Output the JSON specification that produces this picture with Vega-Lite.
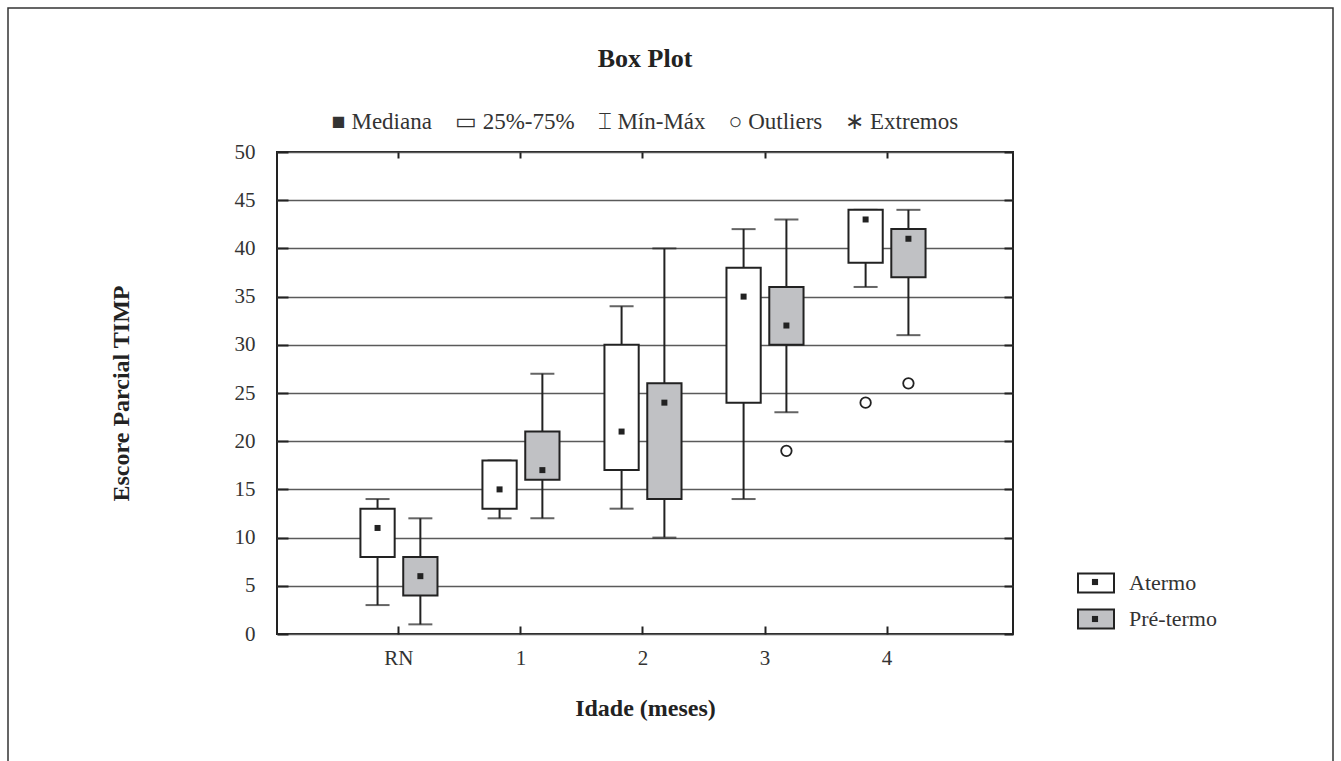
{
  "$schema": "https://vega.github.io/schema/vega-lite/v6.json",
  "autosize": {"type": "none"},
  "padding": {"left": 277, "top": 152, "right": 328, "bottom": 127},
  "width": 736,
  "height": 482,
  "background": "white",
  "title": {
    "text": "Box Plot",
    "subtitle": "■ Mediana\u2003▭ 25%-75%\u2003⌶ Mín-Máx\u2003○ Outliers\u2003∗ Extremos",
    "anchor": "middle",
    "frame": "group",
    "font": "Liberation Serif",
    "fontSize": 26,
    "fontWeight": "bold",
    "color": "#222222",
    "subtitleFont": "Liberation Serif",
    "subtitleFontSize": 23,
    "subtitleColor": "#333333",
    "subtitlePadding": 39,
    "offset": -126
  },
  "config": {
    "view": {"stroke": "#222222", "strokeWidth": 2},
    "axis": {
      "labelFont": "Liberation Serif",
      "labelFontSize": 21,
      "labelColor": "#333333",
      "titleFont": "Liberation Serif",
      "titleFontSize": 24,
      "titleFontWeight": "bold",
      "titleColor": "#222222",
      "tickColor": "#222222",
      "tickWidth": 2,
      "domain": false
    },
    "legend": {
      "labelFont": "Liberation Serif",
      "labelFontSize": 22,
      "labelColor": "#333333"
    }
  },
  "datasets": {
    "boxes": [
      {"idade": "RN", "grupo": "Atermo", "min": 3, "q1": 8, "mediana": 11, "q3": 13, "max": 14},
      {"idade": "RN", "grupo": "Pré-termo", "min": 1, "q1": 4, "mediana": 6, "q3": 8, "max": 12},
      {"idade": "1", "grupo": "Atermo", "min": 12, "q1": 13, "mediana": 15, "q3": 18, "max": 18},
      {"idade": "1", "grupo": "Pré-termo", "min": 12, "q1": 16, "mediana": 17, "q3": 21, "max": 27},
      {"idade": "2", "grupo": "Atermo", "min": 13, "q1": 17, "mediana": 21, "q3": 30, "max": 34},
      {"idade": "2", "grupo": "Pré-termo", "min": 10, "q1": 14, "mediana": 24, "q3": 26, "max": 40},
      {"idade": "3", "grupo": "Atermo", "min": 14, "q1": 24, "mediana": 35, "q3": 38, "max": 42},
      {"idade": "3", "grupo": "Pré-termo", "min": 23, "q1": 30, "mediana": 32, "q3": 36, "max": 43},
      {"idade": "4", "grupo": "Atermo", "min": 36, "q1": 38.5, "mediana": 43, "q3": 44, "max": 44},
      {"idade": "4", "grupo": "Pré-termo", "min": 31, "q1": 37, "mediana": 41, "q3": 42, "max": 44}
    ],
    "outliers": [
      {"idade": "3", "grupo": "Pré-termo", "valor": 19},
      {"idade": "4", "grupo": "Atermo", "valor": 24},
      {"idade": "4", "grupo": "Pré-termo", "valor": 26}
    ]
  },
  "data": {"name": "boxes"},
  "resolve": {"axis": {"x": "independent", "y": "independent"}},
  "layer": [
    {
      "mark": {"type": "rule", "color": "#222222", "strokeWidth": 2},
      "encoding": {
        "x": {
          "field": "idade", "type": "ordinal",
          "sort": ["RN", "1", "2", "3", "4"],
          "scale": {"paddingInner": 0, "paddingOuter": 0.516, "align": 0.484},
          "axis": {"orient": "bottom", "title": "Idade (meses)", "labelAngle": 0, "tickSize": -8, "labelPadding": 21, "titlePadding": 28}
        },
        "xOffset": {"field": "grupo", "type": "nominal", "scale": {"paddingInner": 0.2, "paddingOuter": 0.525}},
        "y": {
          "field": "min", "type": "quantitative",
          "scale": {"domain": [0, 50], "nice": false, "zero": false},
          "axis": {"orient": "left", "title": "Escore Parcial TIMP", "values": [0, 5, 10, 15, 20, 25, 30, 35, 40, 45, 50], "grid": true, "gridColor": "#5a5a5a", "gridWidth": 1.5, "tickSize": -11, "labelPadding": 33, "titlePadding": 101}
        },
        "y2": {"field": "max"}
      }
    },
    {
      "mark": {"type": "tick", "color": "#222222", "size": 24, "thickness": 2},
      "encoding": {
        "x": {"field": "idade", "type": "ordinal", "sort": ["RN", "1", "2", "3", "4"], "axis": {"orient": "top", "title": null, "labels": false, "tickSize": -6}},
        "xOffset": {"field": "grupo", "type": "nominal"},
        "y": {"field": "min", "type": "quantitative", "axis": {"orient": "right", "title": null, "labels": false, "grid": false, "values": [0, 5, 10, 15, 20, 25, 30, 35, 40, 45, 50], "tickSize": -9}}
      }
    },
    {
      "mark": {"type": "tick", "color": "#222222", "size": 24, "thickness": 2},
      "encoding": {
        "x": {"field": "idade", "type": "ordinal", "sort": ["RN", "1", "2", "3", "4"], "axis": null},
        "xOffset": {"field": "grupo", "type": "nominal"},
        "y": {"field": "max", "type": "quantitative", "axis": null}
      }
    },
    {
      "mark": {"type": "bar", "stroke": "#222222", "strokeWidth": 2},
      "encoding": {
        "x": {"field": "idade", "type": "ordinal", "sort": ["RN", "1", "2", "3", "4"], "axis": null},
        "xOffset": {"field": "grupo", "type": "nominal"},
        "y": {"field": "q1", "type": "quantitative", "axis": null},
        "y2": {"field": "q3"},
        "fill": {
          "field": "grupo", "type": "nominal",
          "scale": {"range": ["#ffffff", "#c0c1c4"]},
          "legend": {
            "title": null, "orient": "none", "legendX": 800, "legendY": 412,
            "symbolType": "M-1,-0.53H1V0.53H-1Z", "symbolSize": 1296,
            "symbolStrokeColor": "#222222", "symbolStrokeWidth": 2,
            "labelOffset": 14, "rowPadding": 3, "padding": 0
          }
        }
      }
    },
    {
      "mark": {"type": "point", "filled": true, "fill": "#222222", "size": 1246, "strokeWidth": 0, "opacity": 1},
      "encoding": {
        "x": {"field": "idade", "type": "ordinal", "sort": ["RN", "1", "2", "3", "4"], "axis": null},
        "xOffset": {"field": "grupo", "type": "nominal"},
        "y": {"field": "mediana", "type": "quantitative", "axis": null},
        "shape": {
          "field": "grupo", "type": "nominal",
          "scale": {"domain": ["Atermo", "Pré-termo"], "range": ["M-1,-0.53M1,0.53M-0.17,-0.17H0.17V0.17H-0.17Z", "M-1,-0.53M1,0.53M-0.17,-0.17H0.17V0.17H-0.17Z"]},
          "legend": {
            "title": null, "orient": "none", "legendX": 800, "legendY": 412,
            "symbolSize": 1296, "symbolFillColor": "#222222", "symbolStrokeWidth": 0,
            "labelOffset": 14, "rowPadding": 8, "padding": 0, "labelExpr": "' '"
          }
        },
        "stroke": {
          "field": "mediana", "type": "quantitative",
          "scale": {"range": ["rgba(255,255,255,0)", "rgba(255,255,255,0)"]},
          "legend": {
            "title": null, "orient": "none", "legendX": -269, "legendY": -144,
            "direction": "vertical", "gradientLength": 780, "gradientThickness": 1325,
            "gradientStrokeColor": "#333333", "gradientStrokeWidth": 1.5,
            "labelExpr": "''", "tickCount": 2, "padding": 0
          }
        }
      }
    },
    {
      "data": {"name": "outliers"},
      "mark": {"type": "point", "shape": "circle", "size": 110, "fill": "#ffffff", "filled": true, "stroke": "#222222", "strokeWidth": 1.8, "opacity": 1},
      "encoding": {
        "x": {"field": "idade", "type": "ordinal", "sort": ["RN", "1", "2", "3", "4"], "axis": null},
        "xOffset": {"field": "grupo", "type": "nominal"},
        "y": {"field": "valor", "type": "quantitative", "axis": null}
      }
    }
  ]
}
